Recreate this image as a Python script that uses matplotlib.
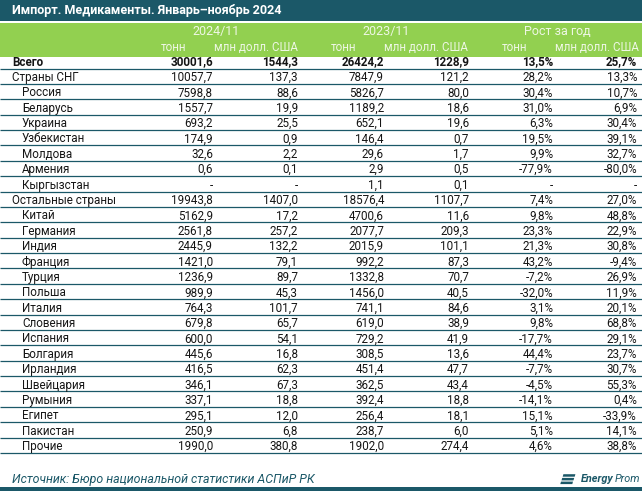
import matplotlib.pyplot as plt
from matplotlib.patches import Rectangle, Polygon

plt.rcParams['font.family'] = ['Roboto', 'DejaVu Sans']

title = 'Импорт. Медикаменты. Январь–ноябрь 2024'
source = 'Источник: Бюро национальной статистики АСПиР РК'
groups = ['2024/11', '2023/11', 'Рост за год']
subheads = ['тонн', 'млн долл. США']

names = ['Всего', 'Страны СНГ', 'Россия', 'Беларусь', 'Украина', 'Узбекистан',
         'Молдова', 'Армения', 'Кыргызстан', 'Остальные страны', 'Китай',
         'Германия', 'Индия', 'Франция', 'Турция', 'Польша', 'Италия',
         'Словения', 'Испания', 'Болгария', 'Ирландия', 'Швейцария',
         'Румыния', 'Египет', 'Пакистан', 'Прочие']
levels = [0, 0, 1, 1, 1, 1, 1, 1, 1, 0, 1, 1, 1, 1, 1, 1, 1, 1, 1, 1, 1, 1,
          1, 1, 1, 1]
t_2024 = [30001.6, 10057.7, 7598.8, 1557.7, 693.2, 174.9, 32.6, 0.6, None,
          19943.8, 5162.9, 2561.8, 2445.9, 1421.0, 1236.9, 989.9, 764.3,
          679.8, 600.0, 445.6, 416.5, 346.1, 337.1, 295.1, 250.9, 1990.0]
usd_2024 = [1544.3, 137.3, 88.6, 19.9, 25.5, 0.9, 2.2, 0.1, None,
            1407.0, 17.2, 257.2, 132.2, 79.1, 89.7, 45.3, 101.7,
            65.7, 54.1, 16.8, 62.3, 67.3, 18.8, 12.0, 6.8, 380.8]
t_2023 = [26424.2, 7847.9, 5826.7, 1189.2, 652.1, 146.4, 29.6, 2.9, 1.1,
          18576.4, 4700.6, 2077.7, 2015.9, 992.2, 1332.8, 1456.0, 741.1,
          619.0, 729.2, 308.5, 451.4, 362.5, 392.4, 256.4, 238.7, 1902.0]
usd_2023 = [1228.9, 121.2, 80.0, 18.6, 19.6, 0.7, 1.7, 0.5, 0.1,
            1107.7, 11.6, 209.3, 101.1, 87.3, 70.7, 40.5, 84.6,
            38.9, 41.9, 13.6, 47.7, 43.4, 18.8, 18.1, 6.0, 274.4]
g_t = [13.5, 28.2, 30.4, 31.0, 6.3, 19.5, 9.9, -77.9, None,
       7.4, 9.8, 23.3, 21.3, 43.2, -7.2, -32.0, 3.1,
       9.8, -17.7, 44.4, -7.7, -4.5, -14.1, 15.1, 5.1, 4.6]
g_usd = [25.7, 13.3, 10.7, 6.9, 30.4, 39.1, 32.7, -80.0, None,
         27.0, 48.8, 22.9, 30.8, -9.4, 26.9, 11.9, 20.1,
         68.8, 29.1, 23.7, 30.7, 55.3, 0.4, -33.9, 14.1, 38.8]

teal = '#1b5868'
green = '#92d050'
head_txt = '#eef7e4'


def fmt(v, pct=False):
    if v is None:
        return '-'
    s = f'{v:.1f}'.replace('.', ',')
    return s + '%' if pct else s


fig = plt.figure(figsize=(6.42, 4.91), dpi=100)
ax = fig.add_axes([0, 0, 1, 1])
ax.set_xlim(0, 642)
ax.set_ylim(491, 0)
ax.axis('off')

# title band
ax.add_patch(Rectangle((0, 0), 642, 20.5, color=teal, lw=0))
ax.text(12, 10.5, title, color='white', fontsize=9.0, fontweight='bold',
        va='center', ha='left')

# header
ax.add_patch(Rectangle((0, 22.5), 642, 34.5, color=green, lw=0))
group_c = [216, 386, 557]
for g, c in zip(groups, group_c):
    ax.text(c, 31, g, color=head_txt, fontsize=9.0, ha='center', va='center')
    ax.text(c - 42, 47, subheads[0], color=head_txt, fontsize=8.4,
            ha='center', va='center')
    ax.text(c + 82, 47, subheads[1], color=head_txt, fontsize=8.4,
            ha='right', va='center')

# rows
col_r = [213, 298, 384, 469, 553, 637]
y0 = 68.5
step = 15.38
for i, name in enumerate(names):
    yb = y0 + step * i
    yc = yb - 6.4
    bold = 'bold' if i == 0 else 'normal'
    ax.plot([0, 642], [yb, yb], color=teal, lw=0.9, solid_capstyle='butt')
    ax.text(12 if levels[i] == 0 else 22, yc, name, fontsize=8.4,
            fontweight=bold, va='center', ha='left', color='#151515')
    vals = [fmt(t_2024[i]), fmt(usd_2024[i]), fmt(t_2023[i]),
            fmt(usd_2023[i]), fmt(g_t[i], True), fmt(g_usd[i], True)]
    for x, v in zip(col_r, vals):
        ax.text(x, yc, v, fontsize=8.4, fontweight=bold, va='center',
                ha='right', color='#151515')

# footer
ax.text(12, 479, source, fontsize=8.9, style='italic', color=teal,
        va='center', ha='left')
for k in range(3):
    yy = 474.2 + k * 3.7
    dx = 1.2 * (2 - k)
    ax.add_patch(Polygon([[561 + dx, yy], [573 + dx, yy],
                          [572.3 + dx, yy + 2.5], [560.3 + dx, yy + 2.5]],
                         color=teal, lw=0))
ax.text(614, 479.5, 'Energy', fontsize=7.8, style='italic', fontweight='bold',
        color=teal, va='center', ha='right')
ax.text(615, 479.5, 'Prom', fontsize=7.8, style='italic', color=teal,
        va='center', ha='left')
ax.add_patch(Rectangle((0, 487), 642, 4, color=teal, lw=0))

fig.savefig('out.png', dpi=100)
